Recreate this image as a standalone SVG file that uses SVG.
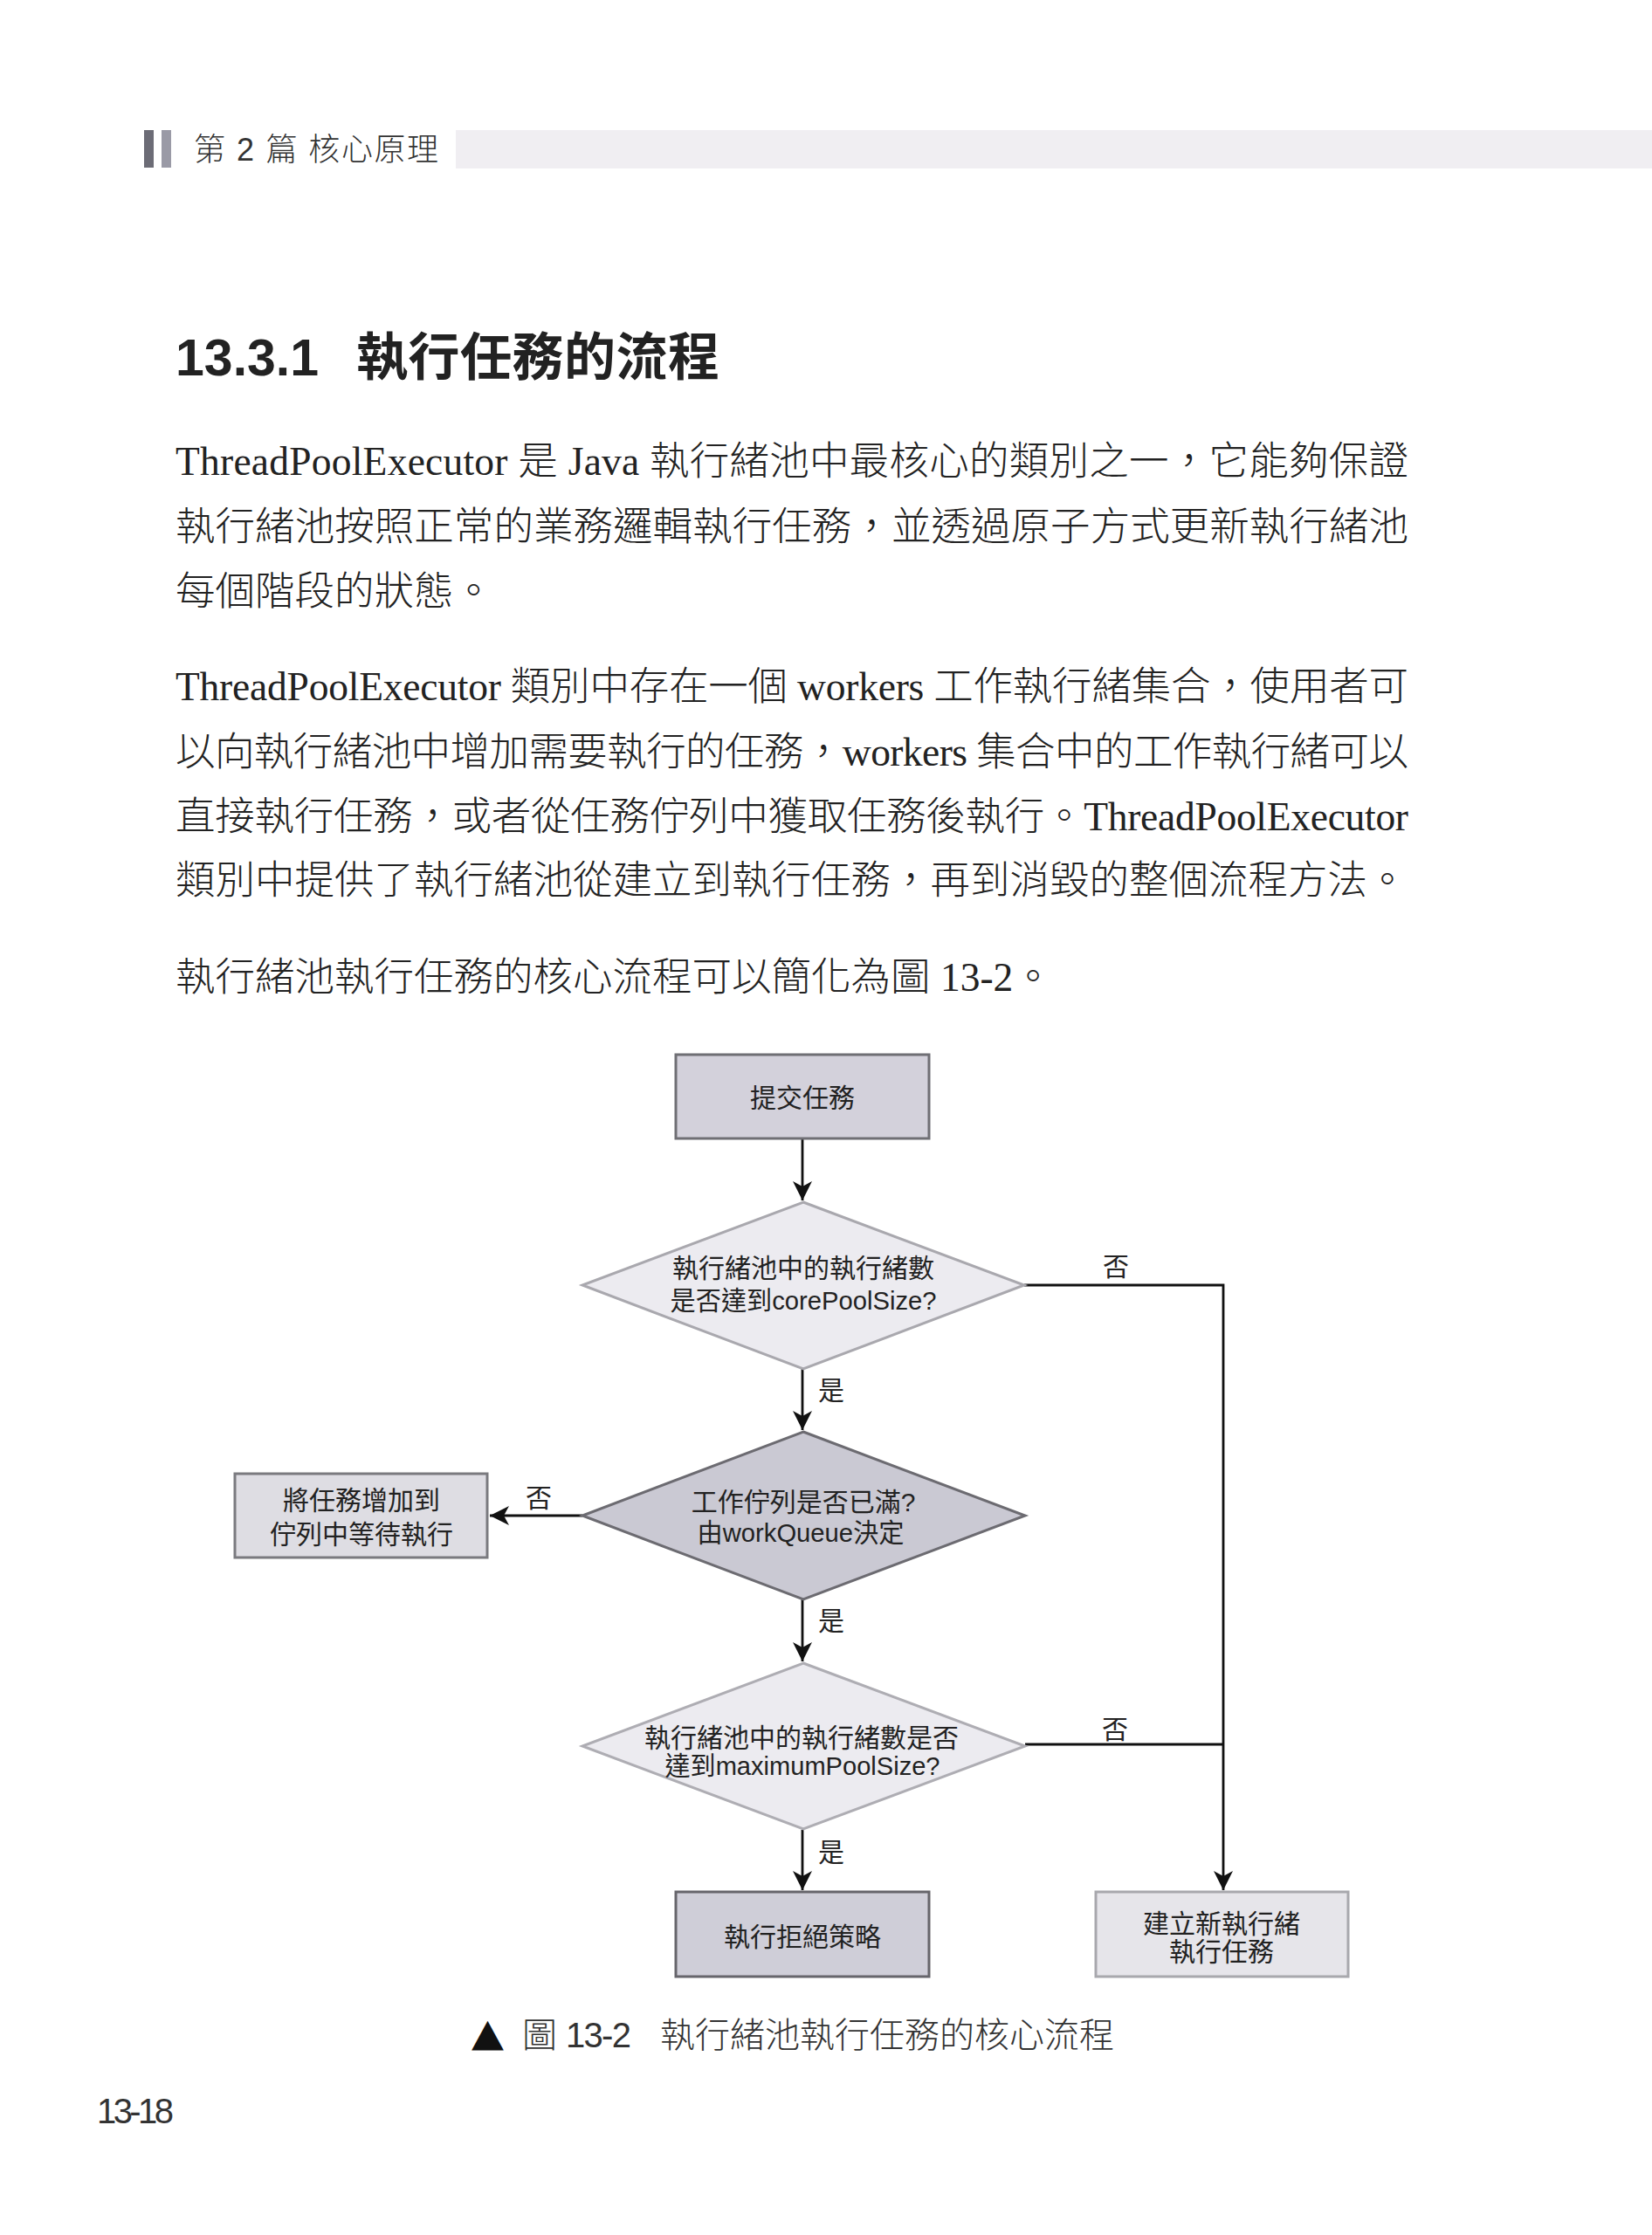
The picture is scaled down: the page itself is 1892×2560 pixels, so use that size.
<svg xmlns="http://www.w3.org/2000/svg" width="1892" height="2560" viewBox="0 0 1892 2560">
<style>
.body{font-family:"Liberation Serif","Noto Sans CJK TC",serif;font-size:45.5px;font-weight:300;fill:#222}
.title{font-family:"Liberation Sans","Noto Sans CJK TC",sans-serif;font-size:59px;font-weight:bold;fill:#222}
.hdr{font-family:"Liberation Sans","Noto Sans CJK TC",sans-serif;font-size:36px;font-weight:300;fill:#333}
.dg{font-family:"Liberation Sans","Noto Sans CJK TC",sans-serif;font-size:30px;fill:#222;text-anchor:middle}
.cap{font-family:"Liberation Sans","Noto Sans CJK TC",sans-serif;font-size:40px;font-weight:300;fill:#333}
.edge{fill:none;stroke:#111;stroke-width:2.8}
</style>
<defs>
<marker id="arr" markerUnits="userSpaceOnUse" markerWidth="24" markerHeight="24" refX="22" refY="11" orient="auto">
<path d="M0,0 L22,11 L0,22 L6,11 Z" fill="#111"/>
</marker>
</defs>
<rect width="1892" height="2560" fill="#ffffff"/>

<g id="header">
<rect x="165" y="149" width="11" height="43" fill="#6c6c76"/>
<rect x="185" y="149" width="11" height="43" fill="#9a9aa6"/>
<rect x="522" y="149" width="1370" height="44" fill="#f0eef2"/>
<text class="hdr" x="222" y="184" textLength="280">第 2 篇  核心原理</text>
</g>

<g id="text">
<text class="title" x="201" y="430">13.3.1<tspan x="408" textLength="416">執行任務的流程</tspan></text>
<text class="body" x="201" y="544" textLength="1412" lengthAdjust="spacing">ThreadPoolExecutor 是 Java 執行緒池中最核心的類別之一，它能夠保證</text>
<text class="body" x="201" y="619" textLength="1412" lengthAdjust="spacing">執行緒池按照正常的業務邏輯執行任務，並透過原子方式更新執行緒池</text>
<text class="body" x="201" y="693">每個階段的狀態。</text>
<text class="body" x="201" y="802" textLength="1412" lengthAdjust="spacing">ThreadPoolExecutor 類別中存在一個 workers 工作執行緒集合，使用者可</text>
<text class="body" x="201" y="877" textLength="1412" lengthAdjust="spacing">以向執行緒池中增加需要執行的任務，workers 集合中的工作執行緒可以</text>
<text class="body" x="201" y="951" textLength="1412" lengthAdjust="spacing">直接執行任務，或者從任務佇列中獲取任務後執行。ThreadPoolExecutor</text>
<text class="body" x="201" y="1024">類別中提供了執行緒池從建立到執行任務，再到消毀的整個流程方法。</text>
<text class="body" x="201" y="1135">執行緒池執行任務的核心流程可以簡化為圖 13-2。</text>
</g>

<g id="connectors">
<path class="edge" d="M919,1305 V1375" marker-end="url(#arr)"/>
<path class="edge" d="M919,1568 V1638" marker-end="url(#arr)"/>
<path class="edge" d="M919,1832 V1903" marker-end="url(#arr)"/>
<path class="edge" d="M919,2096 V2165" marker-end="url(#arr)"/>
<path class="edge" d="M1173,1472 H1401 V2165" marker-end="url(#arr)"/>
<path class="edge" d="M1174,1998 H1401"/>
<path class="edge" d="M667,1736 H561" marker-end="url(#arr)"/>
<text class="dg" x="1278" y="1461">否</text>
<text class="dg" x="952" y="1603">是</text>
<text class="dg" x="617" y="1726">否</text>
<text class="dg" x="952" y="1867">是</text>
<text class="dg" x="1277" y="1991">否</text>
<text class="dg" x="952" y="2132">是</text>
</g>

<g id="n-submit">
<rect x="774" y="1208" width="290" height="96" fill="#d3d1db" stroke="#6f6f74" stroke-width="3"/>
<text class="dg" x="919" y="1268">提交任務</text>
</g>

<g id="n-core">
<polygon points="920,1377 1173,1472 920,1568 667,1472" fill="#ecebf0" stroke="#a9a8ae" stroke-width="3"/>
<text class="dg" x="920" y="1463">執行緒池中的執行緒數</text>
<text class="dg" x="920" y="1500" textLength="305" lengthAdjust="spacingAndGlyphs">是否達到corePoolSize?</text>
</g>

<g id="n-queue">
<polygon points="920,1640 1174,1736 920,1832 667,1736" fill="#cac9d3" stroke="#6c6b71" stroke-width="3"/>
<text class="dg" x="920" y="1731">工作佇列是否已滿?</text>
<text class="dg" x="917" y="1766" textLength="237" lengthAdjust="spacingAndGlyphs">由workQueue決定</text>
</g>

<g id="n-enqueue">
<rect x="269" y="1688" width="289" height="96" fill="#dedde3" stroke="#7a7a7f" stroke-width="3"/>
<text class="dg" x="414" y="1729">將任務增加到</text>
<text class="dg" x="414" y="1768">佇列中等待執行</text>
</g>

<g id="n-max">
<polygon points="920,1905 1174,2000 920,2095 667,2000" fill="#ecebf0" stroke="#aeadb3" stroke-width="3"/>
<text class="dg" x="918" y="2001">執行緒池中的執行緒數是否</text>
<text class="dg" x="919" y="2033" textLength="315" lengthAdjust="spacingAndGlyphs">達到maximumPoolSize?</text>
</g>

<g id="n-reject">
<rect x="774" y="2167" width="290" height="97" fill="#cfced8" stroke="#66656b" stroke-width="3"/>
<text class="dg" x="919" y="2229">執行拒絕策略</text>
</g>

<g id="n-new">
<rect x="1255" y="2167" width="289" height="97" fill="#e6e5ea" stroke="#a8a8ad" stroke-width="3"/>
<text class="dg" x="1399" y="2214">建立新執行緒</text>
<text class="dg" x="1399" y="2246">執行任務</text>
</g>

<g id="caption">
<text x="540" y="2343" font-family="DejaVu Sans, sans-serif" font-size="44" fill="#111" textLength="37" lengthAdjust="spacingAndGlyphs">▲</text>
<text class="cap" x="598" y="2345">圖</text>
<text class="cap" x="648" y="2345" textLength="75">13-2</text>
<text class="cap" x="756" y="2345">執行緒池執行任務的核心流程</text>
<text class="cap" x="111" y="2432" font-size="38" textLength="88">13-18</text>
</g>
</svg>
